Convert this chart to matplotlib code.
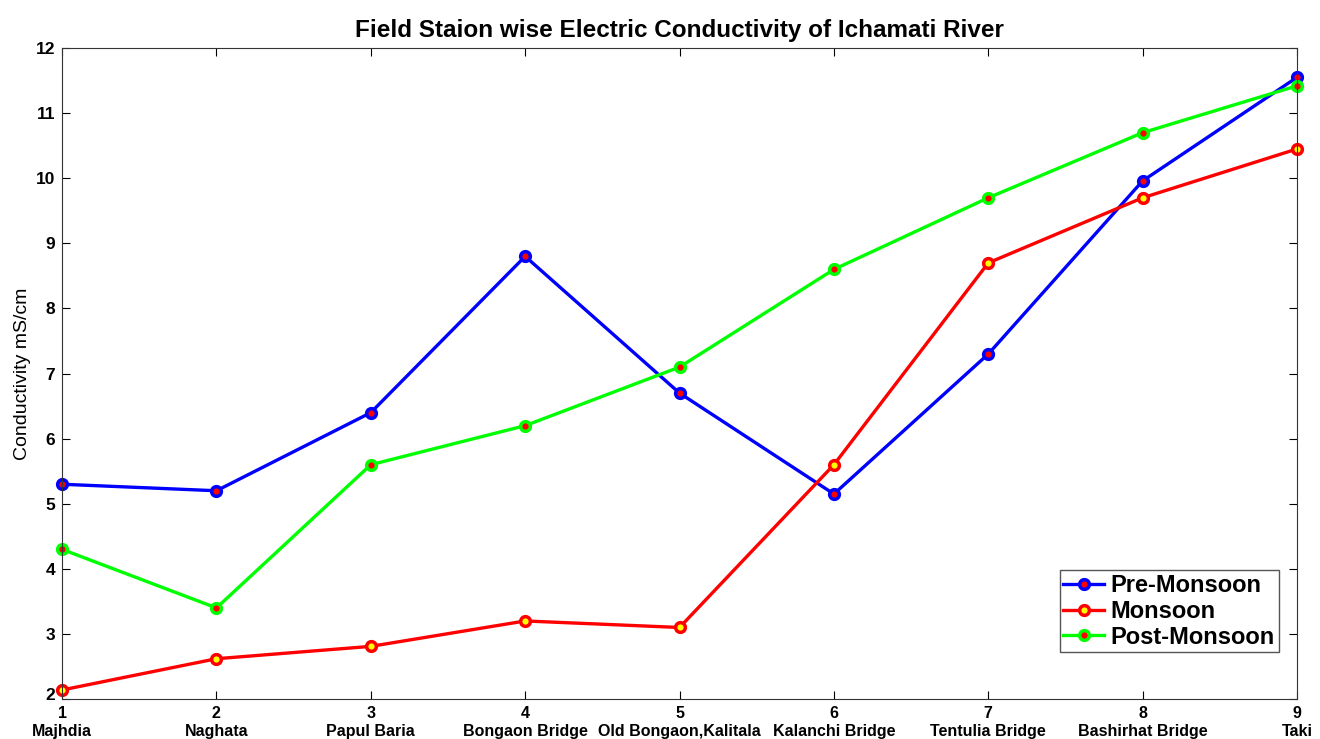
import matplotlib.pyplot as plt
import matplotlib.transforms as mtransforms
import numpy as np

plt.rcParams['font.family'] = ['Liberation Sans', 'DejaVu Sans']
plt.rcParams['font.weight'] = 'bold'

stations = ["Majhdia", "Naghata", "Papul Baria", "Bongaon Bridge", "Old Bongaon,Kalitala",
            "Kalanchi Bridge", "Tentulia Bridge", "Bashirhat Bridge", "Taki"]
station_no = np.arange(1, 10)

pre_monsoon = [5.3, 5.2, 6.4, 8.8, 6.7, 5.15, 7.3, 9.96, 11.55]
monsoon = [2.14, 2.62, 2.81, 3.2, 3.1, 5.6, 8.7, 9.7, 10.45]
post_monsoon = [4.3, 3.4, 5.6, 6.2, 7.1, 8.6, 9.7, 10.7, 11.42]

fig = plt.figure(figsize=(13.2, 7.39), dpi=100)
ax = fig.add_axes([0.047, 0.054, 0.9356, 0.881])

ax.plot(station_no, pre_monsoon, color="blue", lw=2.4, marker="o", ms=7,
        mfc="red", mec="blue", mew=2.5, label="Pre-Monsoon", clip_on=False)
ax.plot(station_no, monsoon, color="red", lw=2.4, marker="o", ms=7,
        mfc="yellow", mec="red", mew=2.5, label="Monsoon", clip_on=False)
ax.plot(station_no, post_monsoon, color="lime", lw=2.4, marker="o", ms=7,
        mfc="red", mec="lime", mew=2.5, label="Post-Monsoon", clip_on=False)

ax.set_xlim(1, 9)
ax.set_ylim(2, 12)
ax.set_xticks(station_no)
ax.set_xticklabels([f"{n}\n{s}" for n, s in zip(station_no, stations)],
                   fontsize=11.5, fontweight="bold", linespacing=1.25)
ax.set_yticks(range(2, 13))
ax.tick_params(axis="y", labelsize=12.5, pad=5)
ax.tick_params(axis="x", pad=5)
ax.tick_params(direction="in", top=True, right=True, length=6, width=0.8)
for s in ax.spines.values():
    s.set_linewidth(0.8)
    s.set_color("#333333")

# nudge the bottom y label up a bit so it clears the first x label
lbl = ax.get_yticklabels()[0]
lbl.set_transform(lbl.get_transform() + mtransforms.ScaledTranslation(0, 4 / 72, fig.dpi_scale_trans))

ax.set_ylabel("Conductivity mS/cm", fontsize=14, fontweight="normal", labelpad=3)
ax.set_title("Field Staion wise Electric Conductivity of Ichamati River",
             fontsize=17.5, fontweight="bold", pad=8)

leg = ax.legend(loc="lower right", bbox_to_anchor=(0.985, 0.072),
                prop={"weight": "bold", "size": 17}, fancybox=False, framealpha=1,
                edgecolor="#555555", handlelength=1.7, handletextpad=0.3,
                borderpad=0.15, labelspacing=0.12, borderaxespad=0)
leg.get_frame().set_linewidth(1.0)

fig.savefig("out.png", dpi=100)
